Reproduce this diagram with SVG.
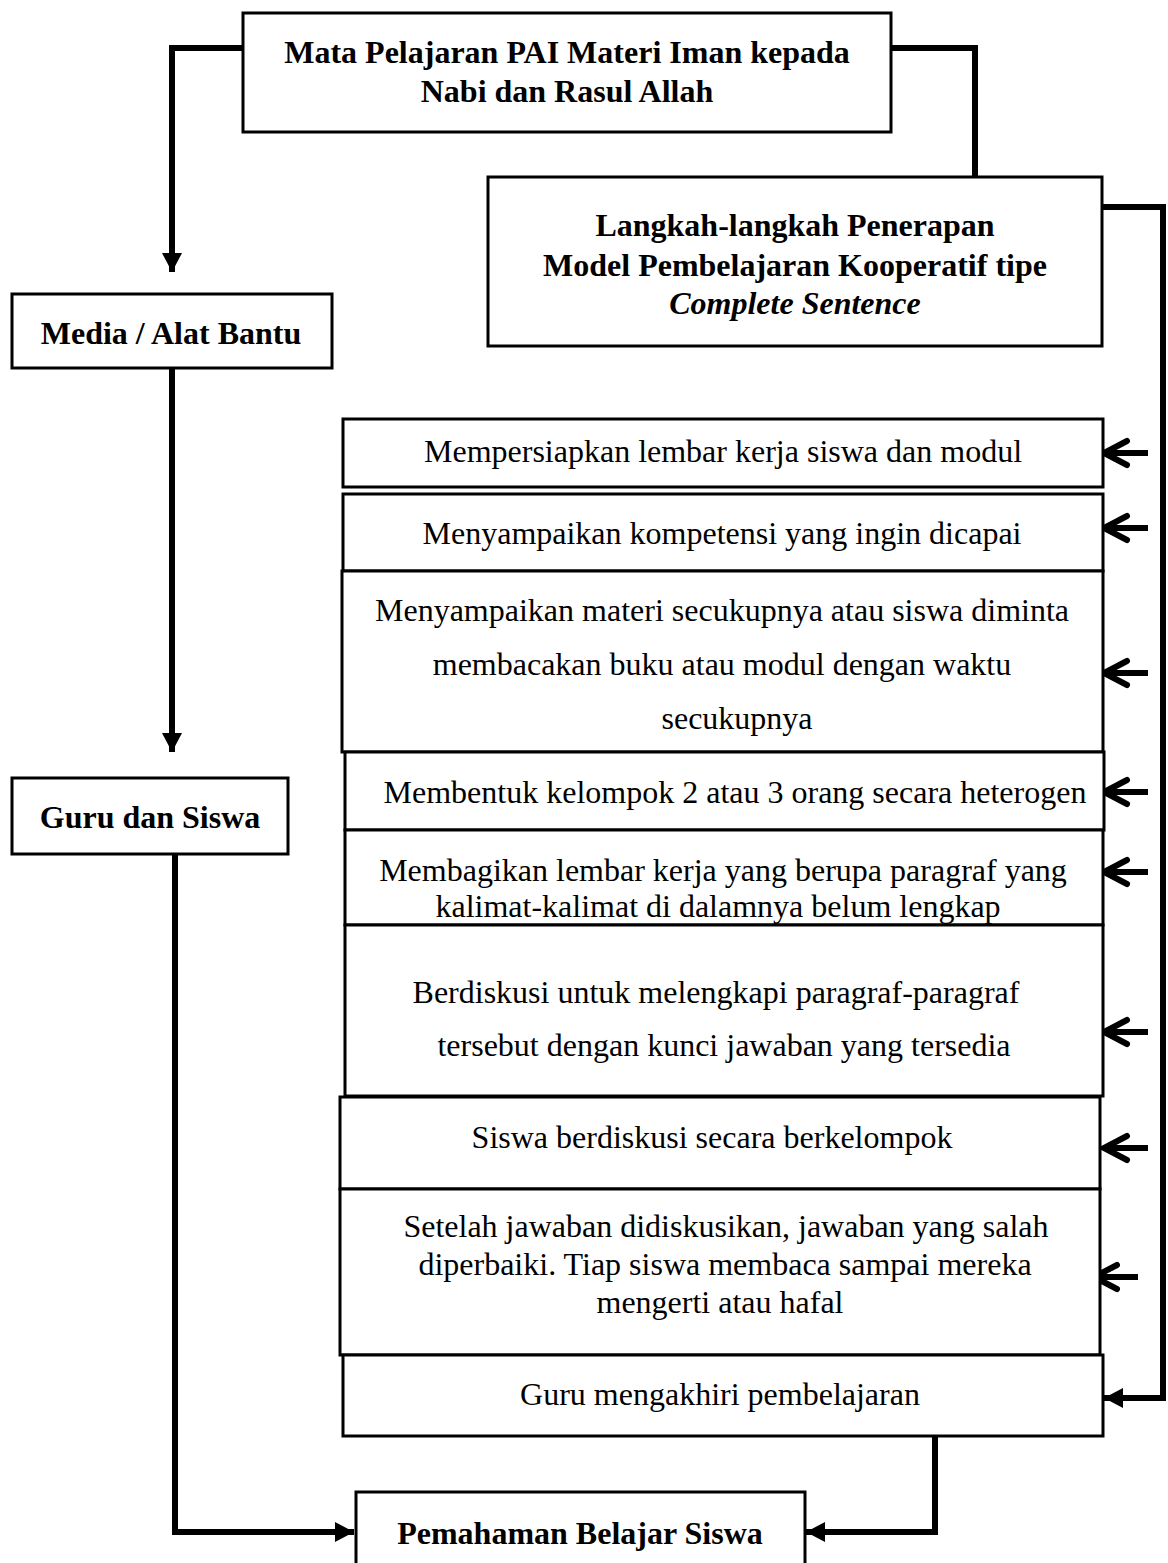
<svg xmlns="http://www.w3.org/2000/svg" xmlns:xlink="http://www.w3.org/1999/xlink" width="1168" height="1563" viewBox="0 0 1168 1563">
<style>
.box{fill:#fff;stroke:#000;stroke-width:3}
.t{font-family:"Liberation Serif","Times New Roman",serif;font-size:32px;fill:#000;text-anchor:middle}
.b{font-weight:bold}
.i{font-style:italic}
.con{fill:none;stroke:#000;stroke-width:6;stroke-linejoin:miter}
.chev{fill:none;stroke:#000;stroke-width:6;stroke-linecap:round;stroke-linejoin:miter}
</style>
<defs>
<marker id="ah" markerUnits="userSpaceOnUse" markerWidth="20" markerHeight="20" viewBox="0 0 20 20" refX="19" refY="10" orient="auto">
<path d="M0,0 L19,10 L0,20 Z" fill="#000"/>
</marker>
<g id="chev">
<path class="chev" d="M25,-12 L2,0 L25,12"/>
<path d="M3,0 H46" stroke="#000" stroke-width="6" fill="none"/>
</g>
</defs>
<rect width="1168" height="1563" fill="#fff"/>
<g id="connectors">
<path class="con" d="M243,48 H172 V272" marker-end="url(#ah)"/>
<path class="con" d="M891,48 H975 V177"/>
<path class="con" d="M172,368 V752" marker-end="url(#ah)"/>
<path class="con" d="M1103,207 H1163 V1398 H1104" marker-end="url(#ah)"/>
<path class="con" d="M175,854 V1532 H354" marker-end="url(#ah)"/>
<path class="con" d="M935,1436 V1532 H806" marker-end="url(#ah)"/>
<use xlink:href="#chev" x="1102" y="453"/>
<use xlink:href="#chev" x="1102" y="528"/>
<use xlink:href="#chev" x="1102" y="673"/>
<use xlink:href="#chev" x="1102" y="792"/>
<use xlink:href="#chev" x="1102" y="872"/>
<use xlink:href="#chev" x="1102" y="1032"/>
<use xlink:href="#chev" x="1102" y="1148"/>
<use xlink:href="#chev" x="1092" y="1277"/>
</g>
<g id="n-top">
<rect class="box" x="243" y="13" width="648" height="119"/>
<text class="t b" x="567" y="63">Mata Pelajaran PAI Materi Iman kepada</text>
<text class="t b" x="567" y="102">Nabi dan Rasul Allah</text>
</g>
<g id="n-langkah">
<rect class="box" x="488" y="177" width="614" height="169"/>
<text class="t b" x="795" y="236">Langkah-langkah Penerapan</text>
<text class="t b" x="795" y="276">Model Pembelajaran Kooperatif tipe</text>
<text class="t b i" x="795" y="314">Complete Sentence</text>
</g>
<g id="n-media">
<rect class="box" x="12" y="294" width="320" height="74"/>
<text class="t b" x="171" y="344">Media / Alat Bantu</text>
</g>
<g id="n-guru">
<rect class="box" x="12" y="778" width="276" height="76"/>
<text class="t b" x="150" y="828">Guru dan Siswa</text>
</g>
<g id="s1">
<rect class="box" x="343" y="419" width="760" height="68"/>
<text class="t" x="723" y="462">Mempersiapkan lembar kerja siswa dan modul</text>
</g>
<g id="s2">
<rect class="box" x="343" y="494" width="760" height="77"/>
<text class="t" x="722" y="544">Menyampaikan kompetensi yang ingin dicapai</text>
</g>
<g id="s3">
<rect class="box" x="342" y="571" width="761" height="181"/>
<text class="t" x="722" y="621">Menyampaikan materi secukupnya atau siswa diminta</text>
<text class="t" x="722" y="675">membacakan buku atau modul dengan waktu</text>
<text class="t" x="737" y="729">secukupnya</text>
</g>
<g id="s4">
<rect class="box" x="345" y="752" width="759" height="78"/>
<text class="t" x="735" y="803">Membentuk kelompok 2 atau 3 orang secara heterogen</text>
</g>
<g id="s5">
<rect class="box" x="345" y="830" width="758" height="95"/>
<text class="t" x="723" y="881">Membagikan lembar kerja yang berupa paragraf yang</text>
<text class="t" x="718" y="917">kalimat-kalimat di dalamnya belum lengkap</text>
</g>
<g id="s6">
<rect class="box" x="345" y="925" width="758" height="171"/>
<text class="t" x="716" y="1003">Berdiskusi untuk melengkapi paragraf-paragraf</text>
<text class="t" x="724" y="1056">tersebut dengan kunci jawaban yang tersedia</text>
</g>
<g id="s7">
<rect class="box" x="340" y="1097" width="760" height="92"/>
<text class="t" x="712" y="1148">Siswa berdiskusi secara berkelompok</text>
</g>
<g id="s8">
<rect class="box" x="340" y="1189" width="760" height="166"/>
<text class="t" x="726" y="1237">Setelah jawaban didiskusikan, jawaban yang salah</text>
<text class="t" x="725" y="1275">diperbaiki. Tiap siswa membaca sampai mereka</text>
<text class="t" x="720" y="1313">mengerti atau hafal</text>
</g>
<g id="s9">
<rect class="box" x="343" y="1355" width="760" height="81"/>
<text class="t" x="720" y="1405">Guru mengakhiri pembelajaran</text>
</g>
<g id="n-pemahaman">
<rect class="box" x="356" y="1492" width="449" height="90"/>
<text class="t b" x="580" y="1544">Pemahaman Belajar Siswa</text>
</g>
</svg>
